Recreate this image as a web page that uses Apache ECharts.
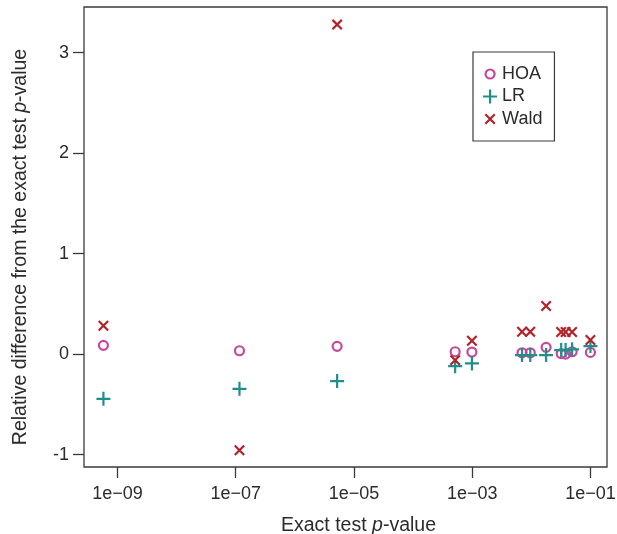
<!DOCTYPE html>
<html>
<head>
<meta charset="utf-8">
<script src="https://cdn.jsdelivr.net/npm/echarts@6/dist/echarts.min.js"></script>
<style>html,body{margin:0;padding:0;background:#fff;}#c{width:617px;height:534px;}</style>
</head>
<body>
<div id="c"></div>
<script>
// Exact test p-values (x) and relative differences (y)
var pValues = [5.8e-10, 1.16e-7, 5.2e-6, 5.15e-4, 9.9e-4, 6.97e-3, 9.6e-3, 1.78e-2, 3.2e-2, 3.8e-2, 4.9e-2, 0.1];
var hoa  = [0.087, 0.033, 0.077, 0.023, 0.020, 0.013, 0.013, 0.067, 0.005, 0.000, 0.023, 0.017];
var lr   = [-0.445, -0.346, -0.269, -0.120, -0.093, -0.010, -0.010, -0.010, 0.040, 0.040, 0.047, 0.080];
var wald = [0.282, -0.957, 3.280, -0.060, 0.133, 0.222, 0.222, 0.479, 0.220, 0.220, 0.220, 0.140];
var xTickExps = [-9, -7, -5, -3, -1];
var xTickLabels = ['1e\u221209', '1e\u221207', '1e\u221205', '1e\u221203', '1e\u221201'];
var yTicks = [-1, 0, 1, 2, 3];
var seriesNames = ['HOA', 'LR', 'Wald'];

var colHOA = '#C4489E', colLR = '#1F8F8C', colWald = '#B1232A';
// all symbols share a 14x14 box (leading moves fix the box)
var circlePath = 'path://M0,0M14,14M2.5,7A4.5,4.5 0 1,0 11.5,7A4.5,4.5 0 1,0 2.5,7Z';
var plusPath = 'path://M0,0M14,14M7,0L7,14M0,7L14,7';
var crossPath = 'path://M0,0M14,14M2.3,2.3L11.7,11.7M2.3,11.7L11.7,2.3';
var font = '"Liberation Sans", Arial, Helvetica, sans-serif';
var txt = '#2b2b2b';
var tickFs = 18, titleFs = 19.5;

function pts(vals) {
  return pValues.map(function (p, i) { return [Math.log10(p), vals[i]]; });
}
function sym(col) { return {color: 'transparent', borderColor: col, borderWidth: 2.2, opacity: 1}; }

var chart = echarts.init(document.getElementById('c'), null, {renderer: 'canvas'});
chart.setOption({
  animation: false,
  backgroundColor: '#fff',
  textStyle: {fontFamily: font},
  grid: {left: 84, right: 10, top: 7, bottom: 67, show: true, borderColor: '#3a3a3a', borderWidth: 1.3,
    containLabel: false, outerBoundsMode: 'none'},
  xAxis: {
    type: 'value', min: -9.565, max: -0.72,
    axisLine: {show: false, onZero: false},
    splitLine: {show: false},
    axisTick: {show: true, inside: false, length: 11, lineStyle: {color: '#3a3a3a', width: 1.3}, customValues: xTickExps},
    axisLabel: {customValues: xTickExps, margin: 18, color: txt, fontSize: tickFs, fontFamily: font,
      formatter: function (v) { var i = xTickExps.indexOf(Math.round(v)); return i >= 0 ? xTickLabels[i] : ''; }},
    name: '{a|Exact test }{i|p}{a|-value}',
    nameLocation: 'middle', nameGap: 49,
    nameTextStyle: {padding: [0, 0, 0, 26], rich: {a: {fontSize: titleFs, color: txt, fontFamily: font}, i: {fontSize: titleFs, color: txt, fontStyle: 'italic', fontFamily: font}}}
  },
  yAxis: {
    type: 'value', min: -1.124, max: 3.455,
    axisLine: {show: false, onZero: false},
    splitLine: {show: false},
    axisTick: {show: true, inside: false, length: 11, lineStyle: {color: '#3a3a3a', width: 1.3}, customValues: yTicks},
    axisLabel: {customValues: yTicks, margin: 15, color: txt, fontSize: tickFs, fontFamily: font},
    name: '{a|Relative difference from the exact test }{i|p}{a|-value}',
    nameLocation: 'middle', nameGap: 53, nameRotate: 90,
    nameTextStyle: {padding: [0, 20, 0, 0], rich: {a: {fontSize: titleFs, color: txt, fontFamily: font}, i: {fontSize: titleFs, color: txt, fontStyle: 'italic', fontFamily: font}}}
  },
  legend: {
    orient: 'vertical', left: 473, top: 52,
    backgroundColor: '#fff',
    borderColor: '#3a3a3a', borderWidth: 1.2,
    padding: [13, 12, 13, 9],
    itemWidth: 14, itemHeight: 14, itemGap: 4.5,
    textStyle: {fontSize: tickFs, color: txt, fontFamily: font},
    data: [
      {name: seriesNames[0], icon: circlePath, itemStyle: sym(colHOA)},
      {name: seriesNames[1], icon: plusPath, itemStyle: sym(colLR)},
      {name: seriesNames[2], icon: crossPath, itemStyle: sym(colWald)}
    ]
  },
  series: [
    {name: seriesNames[0], type: 'scatter', data: pts(hoa), symbol: circlePath, symbolSize: 14, itemStyle: sym(colHOA)},
    {name: seriesNames[1], type: 'scatter', data: pts(lr), symbol: plusPath, symbolSize: 14, itemStyle: sym(colLR)},
    {name: seriesNames[2], type: 'scatter', data: pts(wald), symbol: crossPath, symbolSize: 14, itemStyle: sym(colWald)}
  ]
});
</script>
</body>
</html>
